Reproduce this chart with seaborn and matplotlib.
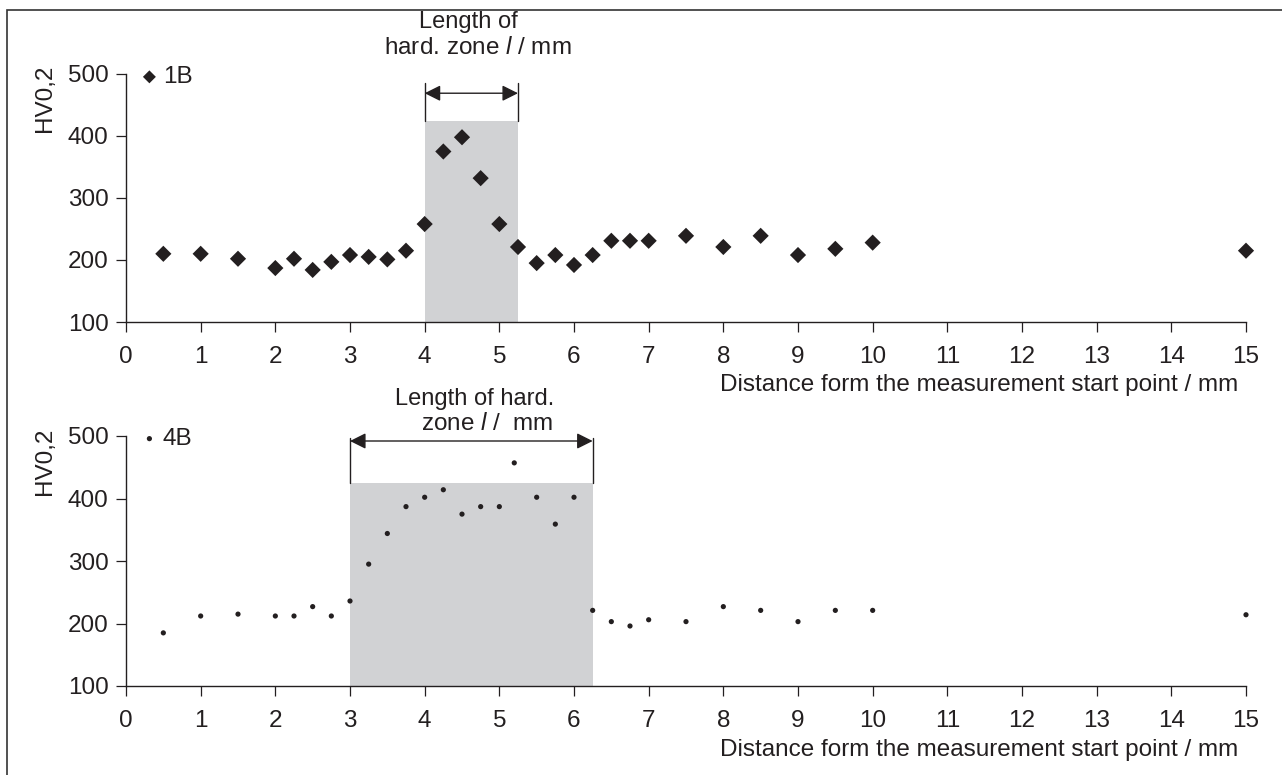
import numpy as np
import pandas as pd
import seaborn as sb
import matplotlib.pyplot as plt
from matplotlib.patches import Rectangle

# date
x_1b = [0.5, 1, 1.5, 2, 2.25, 2.5, 2.75, 3, 3.25, 3.5, 3.75, 4, 4.25, 4.5, 4.75,
        5, 5.25, 5.5, 5.75, 6, 6.25, 6.5, 6.75, 7, 7.5, 8, 8.5, 9, 9.5, 10, 15]
hv_1b = [210, 210, 202, 187, 202, 184, 197, 208, 205, 201, 215, 258, 375, 398, 332,
         258, 221, 195, 208, 192, 208, 231, 231, 231, 239, 221, 239, 208, 218, 228, 215]

x_4b = [0.5, 1, 1.5, 2, 2.25, 2.5, 2.75, 3, 3.25, 3.5, 3.75, 4, 4.25, 4.5, 4.75,
        5, 5.2, 5.5, 5.75, 6, 6.25, 6.5, 6.75, 7, 7.5, 8, 8.5, 9, 9.5, 10, 15]
hv_4b = [185, 212, 215, 212, 212, 227, 212, 236, 295, 344, 387, 402, 414, 375, 387,
         387, 457, 402, 359, 402, 221, 203, 196, 206, 203, 227, 221, 203, 221, 221, 214]

zona_1b = [4.0, 5.25]
zona_4b = [3.0, 6.25]
hv_zona = 425
x_ticks = list(range(16))
y_ticks = [100, 200, 300, 400, 500]

culoare = '#231f20'
gri = '#d1d2d4'
fs = 17.5

sb.set_theme(style='ticks')
plt.rcParams['font.family'] = ['Liberation Sans', 'DejaVu Sans']
plt.rcParams['mathtext.fontset'] = 'custom'
plt.rcParams['mathtext.it'] = 'Liberation Sans:italic'
plt.rcParams['text.color'] = culoare

fig = plt.figure(figsize=(12.82, 7.75), dpi=100)
fig.patches.append(Rectangle((7 / 1282, -0.1), 1.2, 1 - 10 / 775 + 0.1,
                             transform=fig.transFigure, fill=False,
                             edgecolor='#333333', lw=1.2))

ax1 = fig.add_axes([126 / 1282, 1 - 322 / 775, 1120 / 1282, 248 / 775])
ax2 = fig.add_axes([126 / 1282, 1 - 686 / 775, 1120 / 1282, 250 / 775])


def panou(ax, x, y, eticheta, marker, s, leg_scale, zona, y_arrow, y_bara):
    ax.axvspan(zona[0], zona[1], ymin=0, ymax=(hv_zona - 100) / 400,
               color=gri, lw=0, zorder=0)
    df = pd.DataFrame({'x': x, 'hv': y})
    sb.scatterplot(data=df, x='x', y='hv', ax=ax, marker=marker, s=s,
                   color=culoare, edgecolor='none', label=eticheta, zorder=3,
                   clip_on=False)
    ax.set_xlim(0, 15)
    ax.set_ylim(100, 500)
    ax.set_xticks(x_ticks)
    ax.set_yticks(y_ticks)
    ax.tick_params(axis='both', direction='out', length=7.5, width=0.9,
                   colors=culoare, labelsize=fs)
    ax.tick_params(axis='x', pad=9.5)
    ax.tick_params(axis='y', pad=5)
    sb.despine(ax=ax)
    for sp in ['left', 'bottom']:
        ax.spines[sp].set_linewidth(1.0)
        ax.spines[sp].set_color(culoare)
    ax.set_xlabel('')
    ax.set_ylabel('')
    ax.text(0.993, -0.255, 'Distance form the measurement start point / mm',
            transform=ax.transAxes, ha='right', va='center', fontsize=fs)
    ax.text(-0.072, 0.9, 'HV0,2', transform=ax.transAxes, rotation=90,
            ha='center', va='center', fontsize=fs)
    ax.legend(loc='upper left', bbox_to_anchor=(-0.016, 1.1), frameon=False,
              fontsize=fs, handletextpad=-0.45, markerscale=leg_scale,
              borderaxespad=0.3)
    # sageata lungime zona
    for xv in zona:
        ax.plot([xv, xv], [hv_zona, y_bara], color=culoare, lw=1.0,
                clip_on=False)
    ax.annotate('', xy=(zona[0], y_arrow), xytext=(zona[1], y_arrow),
                arrowprops=dict(arrowstyle='<|-|>', color=culoare, lw=1.0,
                                mutation_scale=24, shrinkA=0, shrinkB=0),
                annotation_clip=False)


panou(ax1, x_1b, hv_1b, '1B', 'D', 68, 0.8, zona_1b, 469, 486)
panou(ax2, x_4b, hv_4b, '4B', 'o', 14, 1.0, zona_4b, 492, 497)

ax1.text(4.59, 584, 'Length of', ha='center', va='center', fontsize=17,
         clip_on=False)
ax1.text(4.71, 542, r'hard. zone $\mathit{l}$ / mm', ha='center', va='center',
         fontsize=17.5, clip_on=False)
ax2.text(4.67, 560, 'Length of hard.', ha='center', va='center', fontsize=17,
         clip_on=False)
ax2.text(4.84, 519, r'zone $\mathit{l}$ /  mm', ha='center', va='center',
         fontsize=17.5, clip_on=False)

plt.savefig('out.png', dpi=100)
